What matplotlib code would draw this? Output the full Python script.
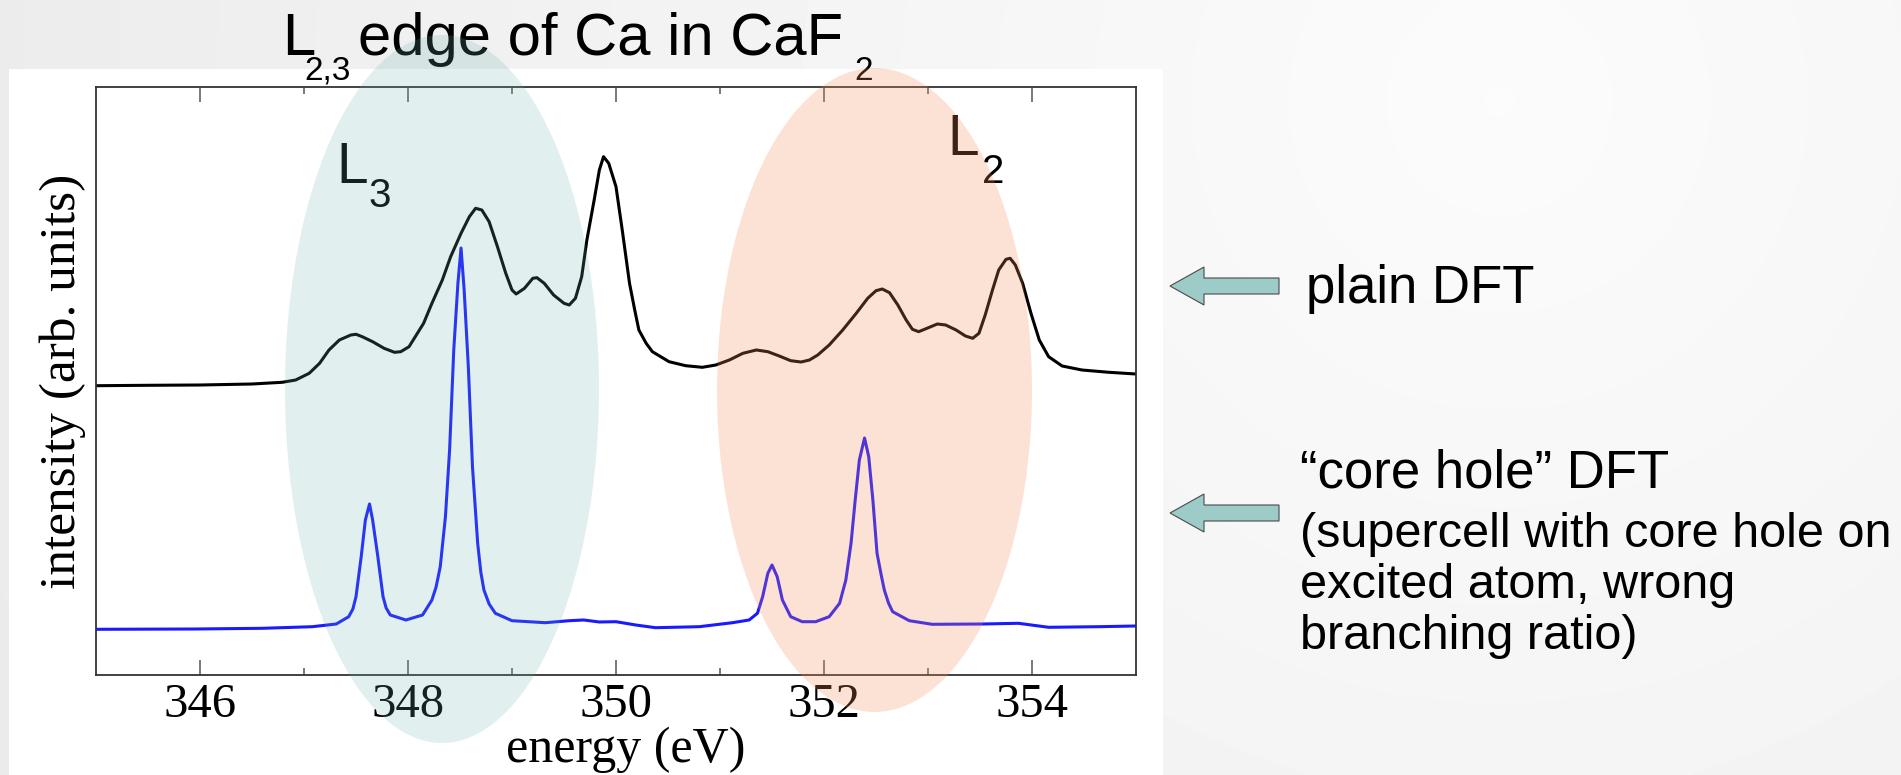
import numpy as np
import matplotlib
matplotlib.use("Agg")
import matplotlib.pyplot as plt
from matplotlib.patches import Ellipse, Polygon, Rectangle

# ---- spectra: Ca L2,3 edge in CaF2 ----
energy_plain = [345.00, 345.50, 346.00, 346.50, 346.79, 346.92, 347.05, 347.15, 347.24, 347.34,
                347.45, 347.50, 347.56, 347.66, 347.77, 347.87, 347.93, 348.01, 348.07, 348.15,
                348.23, 348.33, 348.41, 348.51, 348.59, 348.65, 348.71, 348.78, 348.86, 348.94,
                349.00, 349.04, 349.12, 349.20, 349.24, 349.31, 349.40, 349.50, 349.55, 349.61,
                349.67, 349.72, 349.79, 349.84, 349.88, 349.93, 350.00, 350.06, 350.13, 350.18,
                350.22, 350.29, 350.35, 350.51, 350.67, 350.83, 350.96, 351.09, 351.22, 351.35,
                351.46, 351.57, 351.68, 351.78, 351.86, 351.94, 352.05, 352.18, 352.31, 352.42,
                352.50, 352.56, 352.63, 352.71, 352.79, 352.85, 352.91, 352.99, 353.09, 353.17,
                353.27, 353.36, 353.43, 353.49, 353.55, 353.62, 353.68, 353.75, 353.79, 353.84,
                353.91, 353.99, 354.07, 354.16, 354.29, 354.48, 354.74, 355.00]
intensity_plain = [28.93, 28.97, 29.00, 29.10, 29.27, 29.50, 30.17, 31.17, 32.50, 33.50,
                   34.00, 34.07, 33.83, 33.33, 32.67, 32.27, 32.33, 32.83, 33.83, 35.17,
                   37.17, 39.50, 41.83, 44.17, 45.83, 46.67, 46.50, 45.33, 42.83, 40.17,
                   38.50, 38.10, 38.67, 39.67, 39.73, 39.17, 38.00, 37.17, 37.00, 37.67,
                   39.83, 43.50, 47.50, 50.50, 51.83, 51.17, 48.83, 44.50, 39.17, 36.50,
                   34.50, 33.17, 32.33, 31.33, 30.93, 30.77, 31.00, 31.50, 32.17, 32.50,
                   32.33, 31.90, 31.43, 31.30, 31.50, 32.00, 33.00, 34.50, 36.17, 37.67,
                   38.43, 38.60, 38.23, 37.00, 35.50, 34.57, 34.33, 34.67, 35.10, 35.00,
                   34.50, 33.90, 33.67, 34.17, 36.00, 38.50, 40.50, 41.57, 41.67, 41.00,
                   39.17, 36.17, 33.50, 31.83, 30.90, 30.50, 30.27, 30.10]

energy_corehole = [345.00, 345.96, 346.60, 347.08, 347.31, 347.43, 347.47, 347.50, 347.55, 347.59,
                   347.63, 347.66, 347.71, 347.76, 347.79, 347.83, 347.98, 348.14, 348.23, 348.27,
                   348.31, 348.36, 348.40, 348.44, 348.48, 348.51, 348.54, 348.58, 348.62, 348.67,
                   348.70, 348.73, 348.78, 348.84, 349.00, 349.32, 349.55, 349.69, 349.84, 350.00,
                   350.19, 350.38, 350.80, 351.12, 351.28, 351.36, 351.41, 351.46, 351.50, 351.55,
                   351.60, 351.68, 351.79, 351.92, 352.05, 352.15, 352.21, 352.26, 352.30, 352.34,
                   352.39, 352.43, 352.47, 352.51, 352.55, 352.58, 352.62, 352.66, 352.82, 353.04,
                   353.52, 353.87, 354.16, 354.64, 355.00]
intensity_corehole = [4.57, 4.60, 4.67, 4.83, 5.10, 5.83, 6.60, 7.83, 11.83, 15.50,
                      17.10, 15.50, 11.83, 7.83, 6.70, 6.00, 5.50, 6.00, 7.50, 8.80,
                      10.83, 15.83, 22.50, 32.50, 39.17, 42.70, 38.50, 30.83, 20.83, 13.17,
                      10.30, 8.50, 7.10, 6.17, 5.43, 5.23, 5.43, 5.50, 5.30, 5.33,
                      5.00, 4.73, 4.83, 5.23, 5.50, 6.17, 7.83, 10.17, 11.00, 9.83,
                      7.50, 5.83, 5.33, 5.33, 5.83, 7.17, 9.50, 13.17, 17.50, 21.50,
                      23.70, 21.83, 17.50, 12.17, 10.00, 8.50, 7.20, 6.33, 5.43, 5.07,
                      5.10, 5.17, 4.77, 4.83, 4.90]

major_ticks = [346, 348, 350, 352, 354]
minor_ticks = [347, 349, 351, 353]
tick_labels = ["346", "348", "350", "352", "354"]

W, H, DPI = 1901, 775, 100
SANS = ["Liberation Sans", "DejaVu Sans"]
SERIF = ["Liberation Serif", "DejaVu Serif"]

fig = plt.figure(figsize=(W / DPI, H / DPI), dpi=DPI)

# slide background (soft grey shading) and the white panel behind the plot
bg = fig.add_axes([0, 0, 1, 1], zorder=0)
bg.set_xlim(0, W)
bg.set_ylim(H, 0)
bg.axis("off")
gy, gx = np.mgrid[0:H:4, 0:W:4]
shade = 0.985 - 0.06 * np.hypot(gx - 1500, gy - 100) / 1500
bg.imshow(shade, extent=(0, W, H, 0), cmap="gray", vmin=0, vmax=1,
          aspect="auto", interpolation="bilinear")
bg.add_patch(Rectangle((9, 69), 1154, H - 69, facecolor="white", edgecolor="none"))

# main spectrum axes (pixel box 96..1136 x 87..675)
L, R, T, B = 96, 1136, 87, 675
ax = fig.add_axes([L / W, (H - B) / H, (R - L) / W, (B - T) / H], zorder=1)
ax.set_facecolor("white")
ax.plot(energy_plain, intensity_plain, color="black", lw=2.2,
        solid_joinstyle="round", solid_capstyle="round")
ax.plot(energy_corehole, intensity_corehole, color="#1a1aff", lw=2.2,
        solid_joinstyle="round", solid_capstyle="round")
ax.set_xlim(345, 355)
ax.set_ylim(0, 58.8)
ax.set_xticks(major_ticks)
ax.set_xticklabels(tick_labels)
ax.set_xticks(minor_ticks, minor=True)
ax.set_yticks([])
ax.tick_params(axis="x", which="both", direction="in", top=True, bottom=True,
               color="#555555", width=1.1)
ax.tick_params(axis="x", which="major", length=10.8, pad=5.5, labelsize=35)
ax.tick_params(axis="x", which="minor", length=5.0)
for lab in ax.get_xticklabels():
    lab.set_fontfamily(SERIF)
for sp in ax.spines.values():
    sp.set_color("#333333")
    sp.set_linewidth(1.3)
ax.set_xlabel("energy (eV)", fontsize=36, family=SERIF)
ax.xaxis.set_label_coords(0.509, -0.088)
ax.xaxis.label.set_va("top")
ax.set_ylabel("intensity (arb. units)", fontsize=37, family=SERIF, labelpad=7)

# overlay in pixel coordinates: labels, highlight ellipses, arrows, notes
ov = fig.add_axes([0, 0, 1, 1], zorder=2)
ov.set_xlim(0, W)
ov.set_ylim(H, 0)
ov.axis("off")
ov.patch.set_alpha(0)

def put(x, y, s, size, **kw):
    ov.text(x, y, s, fontsize=size, family=SANS, ha="left", va="baseline", zorder=1, **kw)

# title with subscripts
put(282, 55, "L", 43)
put(304, 80, "2,3", 24)
put(358, 55, "edge of Ca in CaF", 43)
put(854, 80, "2", 24)

# edge labels
put(336, 183, "L", 41)
put(368, 207, "3", 29)
put(947, 155, "L", 41)
put(982, 183, "2", 29)

# translucent highlight ellipses on top of the curves
ov.add_patch(Ellipse((442, 389), 314, 708, facecolor=(105 / 255, 180 / 255, 175 / 255),
                     alpha=0.2, edgecolor="none", zorder=5))
ov.add_patch(Ellipse((874.5, 390), 315, 644, facecolor=(247 / 255, 139 / 255, 91 / 255),
                     alpha=0.25, edgecolor="none", zorder=5))

# block arrows pointing at the two curves
def block_arrow(cy):
    tip, neck, tail, hh, sh = 1170, 1204, 1279, 19, 8
    pts = [(tip, cy), (neck, cy - hh), (neck, cy - sh), (tail, cy - sh),
           (tail, cy + sh), (neck, cy + sh), (neck, cy + hh)]
    ov.add_patch(Polygon(pts, closed=True, facecolor="#9dcbc8", edgecolor="#4a4a4a",
                         lw=0.8, zorder=6))

block_arrow(286)
block_arrow(513)

put(1306, 303, "plain DFT", 38)
put(1300, 488, "\u201ccore hole\u201d DFT", 38)
notes = ["(supercell with core hole on", "excited atom, wrong", "branching ratio)"]
for i, line in enumerate(notes):
    put(1300, 547 + 51 * i, line, 35)

fig.savefig("out.png", dpi=DPI)
